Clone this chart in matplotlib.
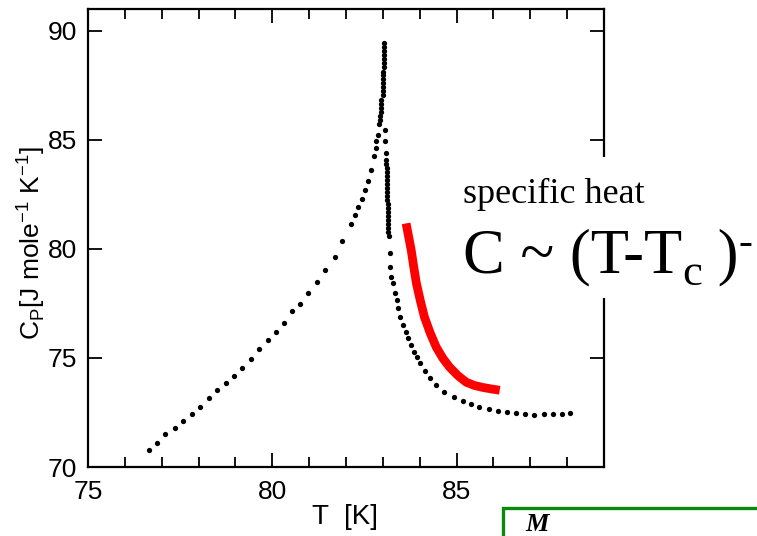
#!/usr/bin/env python3
"""
Specific heat near Tc - recreated slide figure
"""

import matplotlib
matplotlib.use('Agg')
import matplotlib.pyplot as plt
from matplotlib.patches import Rectangle

# data (T in K, Cp in J/mole/K)
left_T = [76.65, 76.86, 77.10, 77.35, 77.58, 77.81, 78.04, 78.27, 78.50, 78.74,
          78.96, 79.18, 79.43, 79.64, 79.88, 80.09, 80.32, 80.54, 80.74, 80.97,
          81.20, 81.42, 81.69, 81.90, 82.13, 82.24, 82.33, 82.42, 82.51, 82.60,
          82.67, 82.76, 82.80, 82.82, 82.87, 82.89,
          82.93, 82.93, 82.94, 82.94, 82.95, 82.96,
          82.99, 82.99, 82.99, 83.00, 83.00, 83.00, 83.00,
          83.03, 83.03, 83.03, 83.04, 83.04, 83.04, 83.04]
left_C = [70.78, 71.08, 71.50, 71.77, 72.09, 72.41, 72.76, 73.17, 73.51, 73.83,
          74.18, 74.54, 74.97, 75.40, 75.81, 76.19, 76.60, 77.14, 77.49, 77.97,
          78.50, 79.04, 79.65, 80.37, 81.13, 81.55, 81.94, 82.28, 82.68, 83.13,
          83.62, 84.27, 84.62, 84.95, 85.23, 85.73,
          85.92, 86.10, 86.28, 86.47, 86.65, 86.83,
          87.06, 87.25, 87.43, 87.61, 87.80, 87.98, 88.12,
          88.35, 88.53, 88.72, 88.90, 89.08, 89.27, 89.45]

right_T = [83.07, 83.07, 83.08,
           83.09, 83.09, 83.10, 83.10, 83.10, 83.11, 83.11, 83.11, 83.12, 83.12,
           83.12, 83.13, 83.13, 83.13, 83.14, 83.14, 83.14, 83.15, 83.15, 83.16,
           83.18, 83.20, 83.23, 83.27, 83.32, 83.37, 83.41, 83.47, 83.54, 83.62,
           83.68, 83.77, 83.84, 83.92, 84.02, 84.15, 84.29, 84.45, 84.67, 84.92,
           85.17, 85.40, 85.62, 85.88, 86.12, 86.36, 86.62, 86.86, 87.11, 87.36,
           87.61, 87.85, 88.08]
right_C = [85.46, 84.97, 84.39,
           84.08, 83.90, 83.72, 83.53, 83.35, 83.17, 82.98, 82.80, 82.61, 82.43,
           82.25, 82.06, 81.88, 81.70, 81.51, 81.33, 81.15, 80.96, 80.78, 80.60,
           79.80, 79.19, 78.73, 78.43, 77.97, 77.66, 77.28, 76.89, 76.51, 76.21,
           75.90, 75.60, 75.29, 75.06, 74.78, 74.42, 74.07, 73.76, 73.45, 73.22,
           73.04, 72.89, 72.77, 72.66, 72.57, 72.51, 72.46, 72.42, 72.40, 72.42,
           72.43, 72.45, 72.46]

# red guide curve drawn on the slide
fit_T = [83.63, 83.70, 83.77, 83.84, 83.91, 84.02, 84.13, 84.29, 84.45, 84.63,
         84.81, 85.03, 85.26, 85.48, 85.71, 85.94, 86.17]
fit_C = [81.17, 80.55, 79.93, 79.15, 78.42, 77.60, 76.86, 76.12, 75.49, 74.98,
         74.58, 74.20, 73.89, 73.74, 73.65, 73.58, 73.52]

x_major = [75, 80, 85]
x_minor = list(range(75, 90))
y_major = [70, 75, 80, 85, 90]

plt.rcParams['font.family'] = ['Liberation Sans', 'DejaVu Sans']


def make_plot():
    fig = plt.figure(figsize=(7.57, 5.36), dpi=100)
    ax = fig.add_axes([0.1163, 0.1287, 0.6816, 0.8545])

    ax.plot(left_T, left_C, 'o', color='black', markersize=3.8, markeredgewidth=0)
    ax.plot(right_T, right_C, 'o', color='black', markersize=3.8, markeredgewidth=0)
    ax.plot(fit_T, fit_C, '-', color='#ff0000', linewidth=6.3,
            solid_capstyle='butt', solid_joinstyle='round')

    ax.set_xlim(75, 89)
    ax.set_ylim(70, 91)
    ax.set_xticks(x_major)
    ax.set_xticks(x_minor, minor=True)
    ax.set_yticks(y_major)

    ax.tick_params(which='both', direction='in', top=True, right=True,
                   width=1.3, labelsize=19, color='black')
    ax.tick_params(which='major', length=10)
    ax.tick_params(which='minor', length=7)
    ax.tick_params(axis='y', pad=8)
    ax.tick_params(axis='x', pad=9)
    for sp in ax.spines.values():
        sp.set_linewidth(1.6)

    ax.set_ylabel(r'C$_\mathregular{P}$[J mole$^\mathregular{-1}$ K$^\mathregular{-1}$]',
                  fontsize=19)
    ax.yaxis.set_label_coords(-0.112, 0.489)
    ax.yaxis.label.set_va('center')
    ax.set_xlabel('T  [K]', fontsize=20)
    ax.xaxis.set_label_coords(0.498, -0.109)
    ax.xaxis.label.set_va('center')

    # white text box of the slide hides part of the right spine
    fig.add_artist(Rectangle((0.594, 0.444), 0.41, 0.263, transform=fig.transFigure,
                             facecolor='white', edgecolor='none', zorder=2))

    serif = ['Liberation Serif', 'DejaVu Serif']
    fig.text(0.6116, 0.6213, 'specific heat', family=serif, fontsize=26,
             va='baseline', ha='left', zorder=3)

    # C ~ (T-Tc )-  built from pieces
    y0 = 0.4925
    t1 = fig.text(0.6116, y0, 'C ~ (T-T', family=serif, fontsize=45,
                  va='baseline', ha='left', zorder=3)
    fig.canvas.draw()
    r = fig.canvas.get_renderer()
    bb = t1.get_window_extent(r)
    t2 = fig.text(bb.x1 / fig.bbox.width, y0 - 0.024, 'c', family=serif, fontsize=32,
                  va='baseline', ha='left', zorder=3)
    bb2 = t2.get_window_extent(r)
    t3 = fig.text(bb2.x1 / fig.bbox.width, y0, ' )', family=serif, fontsize=45,
                  va='baseline', ha='left', zorder=3)
    bb3 = t3.get_window_extent(r)
    fig.text(bb3.x1 / fig.bbox.width, y0 + 0.034, '-', family=serif, fontsize=30,
             va='baseline', ha='left', zorder=3)

    # green box peeking in at the bottom (next slide element)
    fig.add_artist(Rectangle((0.6645, -0.2), 0.5, 0.2522, transform=fig.transFigure,
                             facecolor='white', edgecolor='#0a8a0a', linewidth=2.4,
                             zorder=2))
    fig.text(0.6935, 0.0, 'M', family=serif, fontsize=19, fontweight='bold',
             fontstyle='italic', va='bottom', ha='left', zorder=3)

    return fig


def main():
    fig = make_plot()
    fig.savefig('out.png', dpi=100)
    print("saved out.png")


if __name__ == "__main__":
    main()
